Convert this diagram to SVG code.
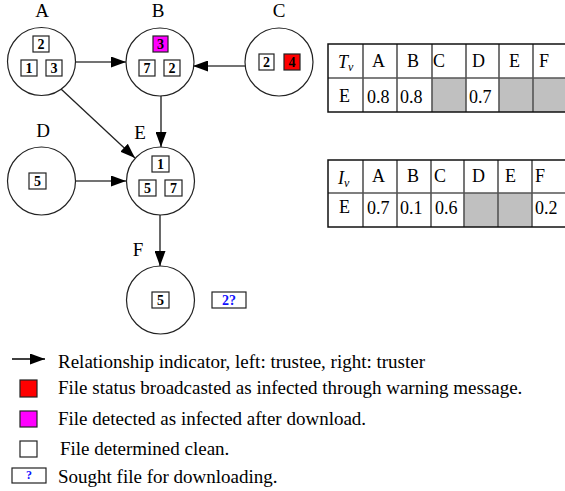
<svg xmlns="http://www.w3.org/2000/svg" width="565" height="491" viewBox="0 0 565 491">
<style>
text{font-family:"Liberation Serif","Times New Roman",serif;fill:#000}
.lbl{font-size:19px;text-anchor:middle}
.node{fill:#fff;stroke:#222;stroke-width:1.2}
.box{stroke:#222;stroke-width:1.2;fill:#fff}
.bn{font-size:14px;font-weight:bold;text-anchor:middle}
.edge{stroke:#444;stroke-width:1.6;fill:none}
.tb{font-size:18px}
.grid{stroke:#555;stroke-width:1.6;fill:none}
.gray{fill:#c0c0c0}
.leg{font-size:19px}
</style>
<defs>
<marker id="ah" markerUnits="userSpaceOnUse" markerWidth="15" markerHeight="11" refX="15" refY="5.5" orient="auto">
<path d="M0,0 L15,5.5 L0,11 z" fill="#000"/>
</marker>
</defs>

<g id="connectors">
<line class="edge" x1="76" y1="62" x2="126" y2="62" marker-end="url(#ah)"/>
<line class="edge" x1="245" y1="66" x2="193" y2="66" marker-end="url(#ah)"/>
<line class="edge" x1="161" y1="95" x2="161" y2="147" marker-end="url(#ah)"/>
<line class="edge" x1="61" y1="89" x2="135" y2="158" marker-end="url(#ah)" style="stroke:#222;stroke-width:1.3"/>
<line class="edge" x1="76" y1="181" x2="126" y2="181" marker-end="url(#ah)"/>
<line class="edge" x1="160" y1="215" x2="160" y2="266" marker-end="url(#ah)"/>
</g>

<g id="node-A">
<text class="lbl" x="42" y="17">A</text>
<circle class="node" cx="41.5" cy="61.5" r="34"/>
<rect class="box" x="33" y="36" width="16" height="16"/><text class="bn" x="41" y="49">2</text>
<rect class="box" x="21" y="60" width="16" height="16"/><text class="bn" x="29" y="73">1</text>
<rect class="box" x="46" y="60" width="16" height="16"/><text class="bn" x="54" y="73">3</text>
</g>

<g id="node-B">
<text class="lbl" x="158" y="17">B</text>
<circle class="node" cx="160" cy="62" r="34"/>
<rect class="box" x="153" y="36" width="15" height="16" style="fill:#ff00ff"/><text class="bn" x="160.5" y="49">3</text>
<rect class="box" x="139" y="60" width="16" height="16"/><text class="bn" x="147" y="73">7</text>
<rect class="box" x="164" y="60" width="16" height="16"/><text class="bn" x="172" y="73">2</text>
</g>

<g id="node-C">
<text class="lbl" x="279" y="17">C</text>
<circle class="node" cx="279" cy="62" r="34"/>
<rect class="box" x="259" y="54" width="15" height="16"/><text class="bn" x="266.5" y="67">2</text>
<rect class="box" x="284" y="54" width="16" height="16" style="fill:#ff0000"/><text class="bn" x="292" y="67">4</text>
</g>

<g id="node-D">
<text class="lbl" x="43" y="137">D</text>
<circle class="node" cx="41.5" cy="181" r="34"/>
<rect class="box" x="29" y="173" width="17" height="16"/><text class="bn" x="37.5" y="186">5</text>
</g>

<g id="node-E">
<text class="lbl" x="140" y="139">E</text>
<circle class="node" cx="160.5" cy="181" r="34"/>
<rect class="box" x="152" y="156" width="17" height="16"/><text class="bn" x="160.5" y="169">1</text>
<rect class="box" x="139" y="180" width="17" height="16"/><text class="bn" x="147.5" y="193">5</text>
<rect class="box" x="165" y="180" width="17" height="16"/><text class="bn" x="173.5" y="193">7</text>
</g>

<g id="node-F">
<text class="lbl" x="138" y="256">F</text>
<circle class="node" cx="160.5" cy="300" r="34"/>
<rect class="box" x="152" y="292" width="17" height="16"/><text class="bn" x="160.5" y="305">5</text>
<rect class="box" x="212" y="292" width="34" height="16"/><text class="bn" x="229" y="305" style="fill:#1010ff">2?</text>
</g>

<g id="table-T">
<rect class="gray" x="432" y="78" width="34" height="34"/>
<rect class="gray" x="499" y="78" width="68" height="34"/>
<path class="grid" d="M363,44V112M397,44V112M432,44V112M466,44V112M499,44V112M533,44V112"/>
<line class="grid" x1="328" y1="78" x2="567" y2="78"/>
<rect x="328" y="44" width="240" height="68" fill="none" stroke="#111" stroke-width="1.5"/>
<text class="tb" x="338" y="68" font-style="italic">T<tspan font-size="12" dy="3">v</tspan></text>
<text class="tb" x="372" y="67">A</text>
<text class="tb" x="407" y="67">B</text>
<text class="tb" x="433" y="67">C</text>
<text class="tb" x="472" y="67">D</text>
<text class="tb" x="509" y="67">E</text>
<text class="tb" x="539" y="67">F</text>
<text class="tb" x="339" y="102">E</text>
<text class="tb" x="367" y="103">0.8</text>
<text class="tb" x="400" y="103">0.8</text>
<text class="tb" x="469" y="103">0.7</text>
</g>

<g id="table-I">
<rect class="gray" x="464" y="193" width="68" height="34"/>
<path class="grid" d="M363,160V227M397,160V227M431,160V227M464,160V227M498,160V227M532,160V227"/>
<line class="grid" x1="328" y1="193" x2="567" y2="193"/>
<rect x="328" y="160" width="240" height="67" fill="none" stroke="#111" stroke-width="1.5"/>
<text class="tb" x="338" y="184" font-style="italic">I<tspan font-size="12" dy="3">v</tspan></text>
<text class="tb" x="372" y="182">A</text>
<text class="tb" x="407" y="182">B</text>
<text class="tb" x="434" y="182">C</text>
<text class="tb" x="472" y="182">D</text>
<text class="tb" x="505" y="182">E</text>
<text class="tb" x="535" y="182">F</text>
<text class="tb" x="339" y="213">E</text>
<text class="tb" x="367" y="214">0.7</text>
<text class="tb" x="400" y="214">0.1</text>
<text class="tb" x="435" y="214">0.6</text>
<text class="tb" x="535" y="214">0.2</text>
</g>

<g id="legend">
<line x1="12" y1="359" x2="45" y2="359" stroke="#000" stroke-width="1.3" marker-end="url(#ah)"/>
<text class="leg" x="58" y="368">Relationship indicator, left: trustee, right: truster</text>
<rect class="box" x="20" y="380" width="17" height="17" style="fill:#ff0000"/>
<text class="leg" x="58" y="394">File status broadcasted as infected through warning message.</text>
<rect class="box" x="20" y="411" width="17" height="16" style="fill:#ff00ff"/>
<text class="leg" x="58" y="425">File detected as infected after download.</text>
<rect class="box" x="20" y="441" width="17" height="16"/>
<text class="leg" x="60" y="455">File determined clean.</text>
<rect class="box" x="12" y="468" width="34" height="15"/>
<text class="bn" x="29" y="479" style="fill:#1010ff;font-size:12px">?</text>
<text class="leg" x="58" y="483">Sought file for downloading.</text>
</g>
</svg>
